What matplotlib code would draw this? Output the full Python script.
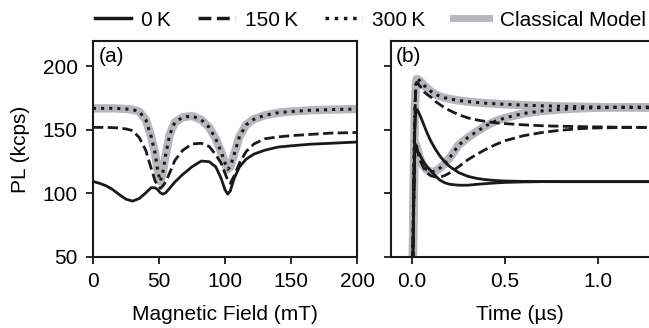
import matplotlib
matplotlib.use("Agg")
import matplotlib.pyplot as plt
from matplotlib.lines import Line2D

plt.rcParams['font.family'] = ['Liberation Sans', 'DejaVu Sans']
plt.rcParams['font.size'] = 15

# (a) PL vs magnetic field
field = [0, 5, 10, 15, 20, 25, 30, 35, 40, 44, 47, 49, 51, 53, 55, 58, 62, 68, 75, 82,
         88, 93, 97, 100, 102, 104, 107, 111, 116, 122, 130, 140, 150, 165, 180, 200]
pl_0k = [109.5, 108, 106, 103, 99, 95.5, 94, 96, 100.5, 104.5, 104.5, 103, 100.5, 99.5, 100.5, 104, 109, 115, 121, 125.5,
         125, 121, 112, 103, 99.5, 102, 112, 121, 127, 131, 134, 136.5, 137.5, 138.8, 139.5, 140.5]
pl_150k = [152, 152, 152, 151.8, 151.5, 150.8, 149.5, 144, 134, 120, 110, 106, 104, 106, 109, 116, 126, 134, 139, 139.5,
           137, 130.5, 124, 116, 110.5, 108, 114, 124, 133, 139, 143, 144.5, 145.5, 146.5, 147.5, 148]
pl_300k = [167, 167, 167, 167, 166.8, 166.5, 166, 164.5, 158, 145, 132, 118, 109.5, 117, 130, 146, 156, 160, 161, 158,
           152, 143, 133, 124, 119, 121, 131, 145, 154, 158.5, 161.5, 163.5, 164.5, 165.5, 166, 166.5]
pl_classical = pl_300k

# (b) PL vs time
time = [0, 0.005, 0.01, 0.015, 0.02, 0.025, 0.03, 0.04, 0.05, 0.065, 0.08, 0.1, 0.125, 0.15, 0.175,
        0.2, 0.25, 0.3, 0.35, 0.4, 0.45, 0.5, 0.6, 0.7, 0.8, 0.9, 1.0, 1.1, 1.2, 1.3]
cl_hi = [0, 60, 120, 165, 185, 190, 190, 189, 187.5, 185, 183, 180.5, 178, 176.5, 175.3,
         174.5, 173.2, 172.3, 171.6, 171, 170.6, 170.2, 169.5, 169, 168.6, 168.3, 168, 167.8, 167.6, 167.5]
cl_lo = [0, 50, 100, 135, 139, 137, 134, 129, 125, 121, 118.5, 117, 117.5, 120, 123.5,
         127.5, 138, 144, 149, 153.5, 157, 159.5, 163, 165, 166.2, 167, 167.5, 167.8, 168, 168]
k150_hi = [0, 60, 118, 160, 182, 187.5, 187, 185, 183, 180, 178, 176, 172.5, 170, 167.5,
           165.5, 162, 159.5, 157.8, 156.6, 155.6, 155, 154, 153.3, 152.9, 152.6, 152.4, 152.2, 152.1, 152]
k150_lo = [0, 50, 100, 134, 138, 136, 133, 128, 124, 119.5, 116.5, 114, 113, 113, 114,
           116, 121, 126.5, 131, 135, 138.5, 141.5, 145.5, 148, 149.8, 151, 151.6, 151.8, 152, 152]
k0_hi = [0, 55, 110, 150, 164, 166, 165.5, 162.5, 159, 153.5, 148, 141.5, 135, 129.5, 125,
         121.5, 116.5, 113.5, 111.8, 110.8, 110.2, 109.8, 109.5, 109.4, 109.3, 109.3, 109.3, 109.3, 109.3, 109.3]
k0_lo = [0, 50, 100, 136, 138.5, 136, 133, 131, 128, 124, 121, 118, 114, 110.5, 108.5,
         107.3, 106.5, 106.5, 107.2, 107.8, 108.3, 108.7, 109.1, 109.3, 109.3, 109.3, 109.3, 109.3, 109.3, 109.3]

gray = '#b6b6bb'
ink = '#1a1a1a'

fig = plt.figure(figsize=(6.49, 3.28), dpi=100)
ax1 = fig.add_axes([93 / 649, 71 / 328, 264 / 649, 216 / 328])
ax2 = fig.add_axes([391 / 649, 71 / 328, 258 / 649, 216 / 328])

# panel (a)
ax1.plot(field, pl_classical, color=gray, lw=6, solid_capstyle='butt', zorder=1)
ax1.plot(field, pl_0k, color=ink, lw=2, zorder=2)
ax1.plot(field, pl_150k, color=ink, lw=2, ls='--', zorder=3)
ax1.plot(field, pl_300k, color=ink, lw=2.2, ls=':', zorder=4)
ax1.set_xlim(0, 200)
ax1.set_ylim(50, 220)
ax1.set_xticks([0, 50, 100, 150, 200])
ax1.set_yticks([50, 100, 150, 200])
ax1.set_xlabel('Magnetic Field (mT)', labelpad=10)
ax1.set_ylabel('PL (kcps)', labelpad=9)
ax1.text(0.02, 0.97, '(a)', transform=ax1.transAxes, ha='left', va='top')

# panel (b)
ax2.plot(time, cl_hi, color=gray, lw=6, zorder=1)
ax2.plot(time, cl_lo, color=gray, lw=6, zorder=1)
ax2.plot(time, k0_hi, color=ink, lw=2, zorder=2)
ax2.plot(time, k0_lo, color=ink, lw=2, zorder=2)
ax2.plot(time, k150_hi, color=ink, lw=2, ls='--', zorder=3)
ax2.plot(time, k150_lo, color=ink, lw=2, ls='--', zorder=3)
ax2.plot(time, cl_hi, color=ink, lw=2.2, ls=':', zorder=4)
ax2.plot(time, cl_lo, color=ink, lw=2.2, ls=':', zorder=4)
ax2.set_xlim(-0.113, 1.274)
ax2.set_ylim(50, 220)
ax2.set_xticks([0, 0.5, 1.0])
ax2.set_xticklabels(['0.0', '0.5', '1.0'])
ax2.set_yticks([50, 100, 150, 200])
ax2.set_yticklabels([])
ax2.set_xlabel('Time (µs)', labelpad=10)
ax2.spines['right'].set_visible(False)
ax2.text(0.02, 0.97, '(b)', transform=ax2.transAxes, ha='left', va='top')

for ax in (ax1, ax2):
    for s in ax.spines.values():
        s.set_linewidth(1.5)
        s.set_color(ink)
    ax.tick_params(direction='out', length=5, width=1.3, color=ink, pad=6)

handles = [Line2D([], [], color=ink, lw=2.5),
           Line2D([], [], color=ink, lw=2.5, ls='--'),
           Line2D([], [], color=ink, lw=2.5, ls=':'),
           Line2D([], [], color=gray, lw=5)]
labels = ['0\u2009K', '150\u2009K', '300\u2009K', 'Classical Model']
fig.legend(handles, labels, loc='center', bbox_to_anchor=(370 / 649, 1 - 20 / 328), ncol=4,
           frameon=False, handlelength=1.75, handletextpad=0.5, columnspacing=1.3,
           borderpad=0, borderaxespad=0)

fig.savefig('out.png', dpi=100)
